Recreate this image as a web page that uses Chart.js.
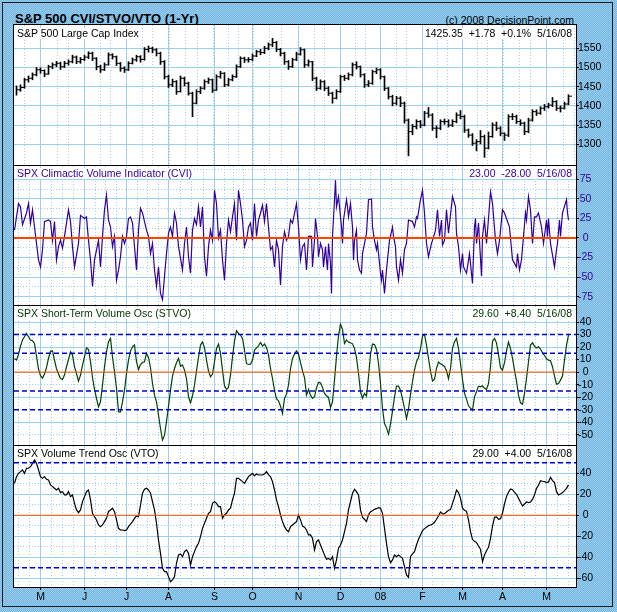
<!DOCTYPE html>
<html>
<head>
<meta charset="utf-8">
<script src="https://cdn.jsdelivr.net/npm/chart.js@4"></script>
<style>
  html, body { margin: 0; padding: 0; }
  body {
    width: 617px; height: 612px; position: relative; overflow: hidden;
    background-color: #86c2ea;
    background-image: conic-gradient(#74b5e0 25%, #9acff0 0 50%, #74b5e0 0 75%, #9acff0 0);
    background-size: 2px 2px;
    font-family: "Liberation Sans", Arial, sans-serif;
  }
  .frame { position: absolute; left: 2px; top: 2px; width: 609px; height: 603px; border: 1px solid #1c1c1c; }
  canvas { position: absolute; left: 0; }
  #title { position: absolute; left: 15px; top: 12px; font-weight: bold; font-size: 13px; line-height: 1; }
  #copy { position: absolute; right: 43px; top: 15px; font-size: 10.5px; line-height: 1; }
  .hd { position: absolute; font-size: 10.5px; line-height: 1; white-space: pre; background: #fff; padding: 0 1px; }
  .hd.r { right: 44px; }
</style>
</head>
<body>
<div class="frame"></div>
<div id="title">S&amp;P 500 CVI/STVO/VTO (1-Yr)</div>
<div id="copy">(c) 2008 DecisionPoint.com</div>
<canvas id="c1" width="617" height="161" style="top:15px"></canvas>
<canvas id="c2" width="617" height="160" style="top:156px"></canvas>
<canvas id="c3" width="617" height="160" style="top:296px"></canvas>
<canvas id="c4" width="617" height="176" style="top:436px"></canvas>
<div class="hd" style="left:16px;top:28px">S&amp;P 500 Large Cap Index</div>
<div class="hd r" style="top:28px">1425.35  +1.78  +0.1%  5/16/08</div>
<div class="hd" style="left:16px;top:168px;color:#330099">SPX Climactic Volume Indicator (CVI)</div>
<div class="hd r" style="top:168px;color:#330099">23.00  -28.00  5/16/08</div>
<div class="hd" style="left:16px;top:308px;color:#003300">SPX Short-Term Volume Osc (STVO)</div>
<div class="hd r" style="top:308px;color:#003300">29.60  +8.40  5/16/08</div>
<div class="hd" style="left:16px;top:448px">SPX Volume Trend Osc (VTO)</div>
<div class="hd r" style="top:448px">29.00  +4.00  5/16/08</div>
<script>
// x = trading session, 0 = 13 Apr 2007 ... 277 = 16 May 2008
const monthStart = [13, 35, 56, 77, 100, 119, 142, 163, 183, 204, 224, 244, 266];
const monthLabels = ['M', 'J', 'J', 'A', 'S', 'O', 'N', 'D', '08', 'F', 'M', 'A', 'M'];

// S&P 500, one bar per two sessions (sessions 1, 3, 5 ... 277)
const priceClose = [
  1442, 1448, 1468, 1472, 1481, 1494, 1492, 1483, 1502, 1507,
  1511, 1502, 1511, 1515, 1527, 1515, 1521, 1527, 1537, 1524,
  1502, 1494, 1507, 1533, 1528, 1511, 1498, 1494, 1511, 1520,
  1528, 1521, 1547, 1550, 1546, 1537, 1515, 1476, 1455, 1463,
  1437, 1472, 1459, 1433, 1407, 1437, 1446, 1463, 1468, 1441,
  1476, 1485, 1455, 1468, 1476, 1502, 1524, 1520, 1521, 1530,
  1541, 1539, 1550, 1559, 1565, 1547, 1537, 1515, 1502, 1520,
  1535, 1546, 1507, 1515, 1472, 1446, 1463, 1446, 1433, 1420,
  1437, 1476, 1472, 1481, 1507, 1502, 1481, 1455, 1459, 1489,
  1494, 1476, 1446, 1424, 1407, 1420, 1407, 1363, 1333, 1346,
  1359, 1350, 1381, 1376, 1342, 1342, 1359, 1359, 1350, 1359,
  1376, 1372, 1337, 1324, 1303, 1307, 1320, 1290, 1320, 1350,
  1342, 1329, 1324, 1372, 1372, 1359, 1355, 1333, 1363, 1385,
  1381, 1394, 1398, 1402, 1411, 1394, 1394, 1405, 1425.35
];
const priceLow = [
  1428, 1438, 1446, 1462, 1468, 1478, 1485, 1476, 1482, 1497,
  1502, 1495, 1500, 1506, 1512, 1510, 1511, 1518, 1523, 1518,
  1494, 1487, 1492, 1506, 1522, 1505, 1490, 1487, 1492, 1509,
  1516, 1514, 1519, 1540, 1538, 1530, 1508, 1470, 1448, 1450,
  1430, 1436, 1452, 1428, 1372, 1405, 1432, 1443, 1458, 1435,
  1440, 1472, 1450, 1452, 1465, 1474, 1500, 1513, 1514, 1518,
  1528, 1533, 1536, 1546, 1554, 1541, 1530, 1508, 1495, 1500,
  1518, 1532, 1500, 1503, 1466, 1440, 1443, 1440, 1427, 1407,
  1418, 1435, 1466, 1468, 1478, 1496, 1475, 1448, 1450, 1456,
  1484, 1470, 1440, 1418, 1400, 1403, 1398, 1355, 1270, 1325,
  1340, 1343, 1348, 1370, 1336, 1317, 1338, 1352, 1345, 1346,
  1356, 1366, 1331, 1318, 1297, 1283, 1301, 1266, 1288, 1318,
  1336, 1322, 1310, 1320, 1364, 1354, 1349, 1325, 1330, 1360,
  1375, 1378, 1388, 1394, 1398, 1388, 1384, 1392, 1403
];
const priceHigh = [
  1452, 1455, 1472, 1478, 1486, 1500, 1499, 1494, 1506, 1512,
  1516, 1514, 1516, 1520, 1532, 1530, 1526, 1532, 1541, 1540,
  1526, 1506, 1512, 1538, 1536, 1530, 1513, 1502, 1515, 1525,
  1532, 1531, 1552, 1556, 1553, 1549, 1540, 1518, 1480, 1470,
  1466, 1478, 1475, 1462, 1436, 1442, 1450, 1468, 1473, 1470,
  1481, 1490, 1487, 1472, 1481, 1507, 1528, 1527, 1526, 1535,
  1545, 1547, 1555, 1564, 1576, 1568, 1550, 1540, 1518, 1524,
  1540, 1552, 1548, 1520, 1516, 1475, 1468, 1466, 1450, 1436,
  1442, 1480, 1480, 1486, 1512, 1515, 1504, 1484, 1466, 1493,
  1499, 1497, 1478, 1448, 1428, 1425, 1424, 1410, 1366, 1352,
  1364, 1362, 1386, 1396, 1380, 1348, 1364, 1366, 1364, 1364,
  1382, 1388, 1376, 1340, 1328, 1312, 1336, 1324, 1332, 1356,
  1358, 1346, 1330, 1377, 1380, 1376, 1364, 1358, 1368, 1390,
  1390, 1398, 1404, 1407, 1422, 1414, 1400, 1410, 1429
];

// CVI turning points [session, value]
const cviPoints = [
  [0, 10], [2, 44], [3, 40], [4, 17], [6, 32], [7, 44], [8, 19], [9, 36], [10, 14], [12, -28],
  [13, -37], [14, -15], [15, 21], [17, 23], [18, 21], [19, -3], [20, 21], [21, -28], [22, -11], [23, -3],
  [24, -13], [25, 2], [27, 36], [28, 21], [29, -11], [30, -37], [32, -7], [33, 29], [35, 25], [36, 27],
  [37, -3], [38, -28], [39, -62], [40, -28], [42, -3], [43, -37], [44, 2], [45, 36], [46, 55], [47, 23],
  [48, 14], [49, -11], [50, 2], [51, -54], [52, -41], [53, -24], [54, 2], [55, -7], [56, 2], [57, 25],
  [58, 27], [59, 19], [60, -11], [61, -41], [62, 10], [63, 38], [64, 32], [66, 10], [67, 2], [68, -20],
  [69, -7], [70, -41], [71, -62], [72, -37], [73, -71], [74, -79], [75, -49], [76, -20], [77, 6], [78, 14],
  [79, 2], [80, 32], [81, 19], [82, -11], [84, -41], [85, -7], [86, 14], [87, -24], [88, -45], [89, 10],
  [90, 25], [91, 17], [92, 40], [93, 14], [94, 40], [95, -24], [96, -49], [97, -11], [98, 10], [99, -3],
  [100, 61], [101, 44], [102, 0], [103, 10], [104, -28], [105, -54], [106, -7], [107, 23], [108, 8], [109, 27],
  [110, 44], [111, -3], [112, 61], [113, 44], [114, 23], [115, -11], [116, -3], [117, 14], [118, 19], [119, -3],
  [120, 44], [121, 2], [122, 23], [123, 32], [124, 42], [125, 21], [126, 44], [127, 14], [128, -15], [129, -11],
  [130, -37], [131, -3], [132, -15], [133, -60], [134, -11], [135, 8], [136, -3], [137, 2], [138, 23], [139, 19],
  [141, 44], [142, 14], [143, -28], [144, -11], [145, -7], [146, -41], [147, 2],
  [148.5, 2], [149, -37], [150, -3], [150.5, 25], [151.5, 2], [152, -24], [153, -7], [154, -15], [154.5, -37], [155.5, -11],
  [156, -28], [156.5, -41], [157, -7], [158, -32], [158.5, -71], [159, 2], [160, 49], [160.5, 74], [161, 40], [162, 53],
  [162.5, 40], [163.5, 14], [164, -7], [164.5, 23], [166, 49], [166.5, 40], [167, 27], [168, 44], [169, 14], [169.5, -28],
  [170, -3], [171, 10], [171.5, -28], [172.5, -41], [173.5, -45], [174, -20], [176, 6], [177, 49], [178.5, 50], [179, 14],
  [180, -3], [181, -15], [181.5, -7], [183, -45], [183.5, -54], [184, -41], [185, -71], [186, -41], [186.5, -28], [187.5, -3],
  [189, 14], [189.5, 2], [190.5, -11], [191, -37], [192, -54], [193, -28], [194, -45], [195, -15], [196, -7], [197, 23],
  [199, 21], [200, 14], [201, 27], [201.5, 25], [203, 49], [204, 61], [205, 32], [206, -7], [207, -24], [208.5, -7],
  [209, -3], [210.5, 10], [211.5, 36], [212.5, 2], [213.5, 23], [214, -9], [215, -3], [216, 36], [217, 6], [219, 53],
  [220.5, 40], [221, 6], [222, -11], [223, -41], [224, -20], [224.5, -37], [226, -45], [227.5, -20], [229, -58], [230, 14],
  [230.5, 25], [231, -7], [232, 19], [233.5, -49], [234, 2], [235, 23], [236, -7], [237, 25], [238, 59], [239, 44],
  [240.5, -3], [241.5, -20], [242.5, -3], [244, 36], [245, 32], [247.5, 14], [249, -28], [251, -37], [251.5, -20], [252.5, -41],
  [253.5, -28], [254.5, 2], [255.5, 32], [256, 23], [257, 53], [258, 36], [259, -7], [260, 27], [261, 27], [262, 32],
  [263.5, 14], [264.5, -7], [266, 23], [266.5, 2], [267, 25], [268, -7], [270, -37], [271, -15], [271.5, -7], [272.5, 23],
  [273, 2], [274, 32], [276, 49], [276.5, 32], [277, 23]
];

// STVO, one value per session
const stvo = [
  10.9, 9.6, 14.1, 20.8, 25.6, 28.2, 30.9, 28.2, 25.6, 25.0,
  22.9, 12.8, 2.4, -2.9, -4.8, -1.6, 3.7, 10.9, 16.8, 17.0,
  9.6, 2.7, -1.6, -5.1, -5.9, -2.4, 4.3, 10.1, 16.2, 13.6,
  4.3, -1.1, -7.2, -2.4, 5.6, 12.2, 19.4, 18.1, 8.3, -4.3,
  -13.6, -21.0, -27.7, -23.7, -10.4, 4.3, 16.2, 24.2, 26.9, 12.2,
  0.3, -13.0, -31.7, -31.7, -23.7, -14.4, -1.1, 9.6, 16.8, 20.2,
  21.6, 8.3, 2.1, 6.1, 7.7, 8.3, 14.9, 11.7, 3.5, -9.1,
  -18.4, -23.7, -34.3, -45.0, -54.3, -50.3, -39.6, -27.2, -14.4, -3.2,
  2.9, 7.5, 10.9, 4.8, 5.6, 1.6, -5.1, -19.7, -24.5, -18.9,
  -10.4, 1.1, 11.7, 21.6, 24.2, 19.4, 9.6, 0.8, -3.7, -1.6,
  8.3, 18.9, 22.4, 14.9, 1.6, -11.2, -13.8, -12.2, -2.4, 12.2,
  24.8, 33.0, 30.9, 29.6, 26.9, 17.6, 6.9, 6.1, 6.4, 9.6,
  17.6, 19.4, 21.0, 23.7, 20.8, 22.4, 19.7, 13.6, 2.9, -5.1,
  -14.4, -21.3, -22.9, -27.2, -33.0, -21.0, -17.6, -10.4, 2.9, 10.9,
  14.4, 17.0, 14.4, 7.5, 1.1, -4.3, -18.4, -13.8, -18.4, -21.0,
  -19.7, -12.5, -8.3, -8.5, -12.2, -17.0, -18.9, -20.2, -28.2, -23.7,
  -6.4, 12.8, 28.8, 38.3, 34.1, 22.9, 25.6, 24.0, 23.4, 22.6,
  18.9, 11.7, -1.1, -15.7, -20.8, -17.0, -19.2, -3.7, 14.4, 22.4,
  22.1, 18.1, 6.9, -9.1, -29.3, -41.0, -44.5, -49.5, -41.5, -31.2,
  -19.7, -11.2, -11.2, -14.4, -21.3, -29.0, -37.0, -29.6, -17.8, -7.7,
  1.6, 8.3, 11.7, 18.9, 28.8, 30.1, 21.6, 10.9, 0.8, -7.2,
  -5.6, 2.9, 8.0, 6.7, 5.6, 4.5, 1.1, -5.3, 2.9, 18.9,
  24.2, 26.9, 18.9, 6.9, -5.9, -17.0, -21.6, -26.9, -28.8, -30.4,
  -19.7, -15.7, -11.2, -11.7, -10.9, -13.0, -13.8, -9.1, 4.3, 24.5,
  26.9, 23.4, 14.1, 3.5, 1.6, 7.5, 17.0, 24.0, 18.9, 10.9,
  1.6, -7.2, -18.4, -24.5, -25.6, -17.0, -5.1, 8.3, 21.6, 23.4,
  20.8, 19.2, 20.2, 18.4, 15.4, 13.3, 10.6, 9.6, 9.1, 4.3,
  -3.2, -9.6, -9.1, -6.4, -3.2, 9.6, 21.3, 29.6
];

// VTO, one value per session
const vto = [
  30.5, 36.8, 40.0, 41.6, 43.2, 40.0, 44.8, 44.8, 46.3, 49.5,
  52.7, 49.5, 43.2, 36.8, 35.2, 36.8, 34.3, 33.7, 28.9, 27.3,
  25.7, 24.1, 25.7, 21.6, 22.5, 19.4, 19.4, 22.5, 17.8, 19.4,
  11.4, 5.1, 2.5, 5.1, 13.0, 17.8, 22.5, 24.1, 14.6, 1.9,
  -1.3, -4.4, -9.2, -10.8, -9.2, -6.0, -2.9, 3.5, 5.1, 6.7,
  3.5, -4.4, -12.4, -14.0, -14.0, -14.6, -14.0, -10.8, -8.3, -6.0,
  -2.9, -0.6, -1.3, 9.8, 21.0, 24.8, 25.7, 24.1, 21.0, 13.0,
  5.1, -7.6, -23.5, -36.2, -50.5, -53.7, -53.7, -58.4, -63.2, -61.6,
  -58.4, -45.7, -37.8, -36.8, -39.4, -34.6, -33.0, -36.2, -47.3, -39.4,
  -34.6, -29.8, -26.7, -20.3, -12.4, -7.6, -2.9, 1.9, 3.5, 11.4,
  13.0, 11.4, 8.3, 8.3, -2.9, 0.3, 1.9, 5.1, 6.7, 14.6,
  21.0, 35.2, 35.2, 33.7, 32.1, 30.5, 33.7, 36.8, 38.4, 40.0,
  37.5, 39.4, 38.4, 38.4, 38.4, 39.4, 41.6, 38.4, 36.8, 32.1,
  24.1, 14.6, 8.3, 0.3, -6.0, -10.8, -14.0, -15.6, -10.8, -9.2,
  -7.6, -6.0, 0.3, -4.4, -10.2, -11.4, -14.0, -18.7, -18.7, -21.9,
  -33.0, -25.0, -23.5, -28.3, -33.0, -37.8, -41.9, -41.0, -42.5, -39.4,
  -50.5, -42.5, -31.4, -28.3, -23.5, -15.6, -7.6, 5.1, 13.0, 21.0,
  24.8, 22.5, 19.4, 5.1, -1.9, -3.8, -6.0, 0.3, 3.5, 4.4,
  5.7, 6.3, 7.3, 6.7, 1.9, -12.4, -26.7, -39.4, -45.1, -42.5,
  -37.8, -39.4, -37.8, -39.4, -41.0, -48.9, -56.8, -59.0, -39.4, -36.8,
  -34.6, -28.3, -22.9, -18.7, -14.6, -12.7, -11.4, -9.8, -9.2, -8.3,
  -6.7, -3.8, -0.6, 3.2, 1.3, 1.6, 3.2, 4.8, 5.4, 11.4,
  17.1, 24.1, 21.6, 16.2, 6.7, 4.8, 3.8, -4.4, -15.6, -22.9,
  -24.8, -26.0, -29.2, -32.4, -44.1, -37.8, -33.7, -30.5, -21.9, -10.2,
  -1.9, -1.6, -3.8, -3.2, 1.9, 10.8, 17.8, 21.9, 25.1, 24.4,
  21.9, 20.0, 16.2, 12.4, 8.9, 10.8, 12.7, 12.1, 12.7, 15.2,
  19.4, 25.7, 28.6, 33.0, 32.4, 32.1, 31.1, 31.7, 36.2, 33.0,
  31.1, 22.5, 19.4, 20.3, 21.6, 23.5, 25.7, 29.0
];

const priceTicks = [1300, 1350, 1400, 1450, 1500, 1550];
const cviTicks = [-75, -50, -25, 0, 25, 50, 75];
const stvoTicks = [-50, -40, -30, -20, -10, 0, 10, 20, 30, 40];
const vtoTicks = [-60, -40, -20, 0, 20, 40];
const stvoBands = [30, 15, -15, -30];
const vtoBands = [50, -50];

const dayMin = -0.25, dayMax = 280.75;
const gridBlue = '#9ccff0';

Chart.defaults.font.family = '"Liberation Sans", Arial, sans-serif';
Chart.defaults.font.size = 10.5;
Chart.defaults.color = '#000';

// dotted verticals split every month in four
const ext = [monthStart[0] - 22, ...monthStart, monthStart[monthStart.length - 1] + 22];
const weekLines = [];
for (let i = 0; i < ext.length - 1; i++) {
  for (const q of [0.25, 0.5, 0.75]) {
    const v = ext[i] + (ext[i + 1] - ext[i]) * q;
    if (v > dayMin && v < dayMax) weekLines.push(v);
  }
}

const panelBox = {
  id: 'panelBox',
  beforeDraw(chart) {
    const { ctx, chartArea: a } = chart;
    ctx.save();
    ctx.fillStyle = '#fff';
    ctx.fillRect(a.left, a.top, a.right - a.left, a.bottom - a.top);
    ctx.restore();
  },
  afterDraw(chart) {
    const { ctx, chartArea: a } = chart;
    ctx.save();
    ctx.strokeStyle = '#000';
    ctx.lineWidth = 1;
    ctx.strokeRect(a.left - 0.5, a.top - 0.5, a.right - a.left + 1, a.bottom - a.top + 1);
    ctx.restore();
  }
};

function buildScales(o) {
  return {
    x: {
      type: 'linear', axis: 'x', position: 'bottom', min: dayMin, max: dayMax, offset: false,
      afterBuildTicks: s => { s.ticks = monthStart.map(v => ({ value: v })); },
      afterFit: s => { s.height = o.xLabels ? 25 : 0; },
      grid: { color: gridBlue, offset: false, drawTicks: o.xLabels, tickLength: 3, tickColor: '#000' },
      border: { display: false },
      ticks: { display: o.xLabels, autoSkip: false, maxRotation: 0, padding: 1, callback: (v, i) => monthLabels[i] }
    },
    xw: {
      type: 'linear', axis: 'x', position: 'bottom', min: dayMin, max: dayMax, offset: false,
      afterBuildTicks: s => { s.ticks = weekLines.map(v => ({ value: v })); },
      afterFit: s => { s.height = 0; },
      grid: { color: gridBlue, drawTicks: false },
      border: { display: false, dash: [1, 2] },
      ticks: { display: false }
    },
    y: {
      type: 'linear', axis: 'y', position: 'right', min: o.min, max: o.max,
      afterBuildTicks: s => { s.ticks = o.ticks.map(v => ({ value: v })); },
      afterFit: s => { s.width = 41; },
      grid: {
        color: c => (o.solid.includes(c.tick.value) ? gridBlue : 'rgba(0,0,0,0)'),
        drawTicks: true, tickLength: 3, tickColor: '#000'
      },
      border: { display: false },
      ticks: { color: o.labelColor || '#000', padding: -1, crossAlign: o.align || 'center', autoSkip: false, callback: v => String(v) }
    },
    ym: {
      type: 'linear', axis: 'y', position: 'right', min: o.min, max: o.max,
      afterBuildTicks: s => { s.ticks = o.dotted.map(v => ({ value: v })); },
      afterFit: s => { s.width = 0; },
      grid: { color: gridBlue, drawTicks: false },
      border: { display: false, dash: [1, 2] },
      ticks: { display: false }
    }
  };
}

function level(v, color, width, dash) {
  return {
    type: 'line',
    data: [{ x: dayMin, y: v }, { x: dayMax, y: v }],
    borderColor: color, borderWidth: width, borderDash: dash || [],
    pointRadius: 0
  };
}

function baseOptions(scales, bottomPad) {
  return {
    responsive: false, animation: false, events: [], devicePixelRatio: 1,
    layout: { padding: { left: 14, right: 0, top: 10, bottom: bottomPad } },
    plugins: { legend: { display: false }, tooltip: { enabled: false } },
    scales
  };
}

// S&P 500 price bars: high-low bar with close tick on the right
new Chart(document.getElementById('c1'), {
  type: 'bar',
  data: {
    datasets: [
      {
        type: 'line', showLine: false,
        data: priceClose.map((c, k) => ({ x: 2 * k + 2, y: c })),
        pointStyle: 'line', pointRadius: 1.5, borderColor: '#000', pointBorderWidth: 1
      },
      {
        type: 'bar', grouped: false, barThickness: 1,
        data: priceLow.map((lo, k) => ({ x: 2 * k + 1, y: [lo, priceHigh[k]] })),
        backgroundColor: '#000', borderWidth: 0
      }
    ]
  },
  options: baseOptions(buildScales({
    min: 1243.5, max: 1610.7, ticks: priceTicks, solid: priceTicks, dotted: [], align: 'near'
  }), 10),
  plugins: [panelBox]
});

// CVI
new Chart(document.getElementById('c2'), {
  type: 'line',
  data: {
    datasets: [
      level(0, '#ff4400', 2),
      {
        data: cviPoints.map(p => ({ x: p[0], y: p[1] })),
        borderColor: '#330099', borderWidth: 1.2, pointRadius: 0, tension: 0
      }
    ]
  },
  options: baseOptions(buildScales({
    min: -87, max: 92.1, ticks: cviTicks, solid: cviTicks,
    dotted: [-62.5, -37.5, -12.5, 12.5, 37.5, 62.5, 87.5], labelColor: '#330099'
  }), 10),
  plugins: [panelBox]
});

// STVO
new Chart(document.getElementById('c3'), {
  type: 'line',
  data: {
    datasets: [
      level(0, '#ff5500', 1),
      ...stvoBands.map(b => level(b, '#0000cc', 1.5, [5, 3])),
      {
        data: stvo.map((v, i) => ({ x: i, y: v })),
        borderColor: '#004400', borderWidth: 1.2, pointRadius: 0, tension: 0
      }
    ]
  },
  options: baseOptions(buildScales({
    min: -59, max: 52.8, ticks: stvoTicks, solid: [-40, -20, 0, 20, 40],
    dotted: [-50, -30, -10, 10, 30, 50]
  }), 10),
  plugins: [panelBox]
});

// VTO
new Chart(document.getElementById('c4'), {
  type: 'line',
  data: {
    datasets: [
      level(0, '#ff5500', 1),
      ...vtoBands.map(b => level(b, '#0000cc', 1.5, [5, 3])),
      {
        data: vto.map((v, i) => ({ x: i, y: v })),
        borderColor: '#000', borderWidth: 1.2, pointRadius: 0, tension: 0
      }
    ]
  },
  options: baseOptions(buildScales({
    min: -68.3, max: 66, ticks: vtoTicks, solid: vtoTicks,
    dotted: [-50, -30, -10, 10, 30, 50], xLabels: true
  }), 0),
  plugins: [panelBox]
});
</script>
</body>
</html>
